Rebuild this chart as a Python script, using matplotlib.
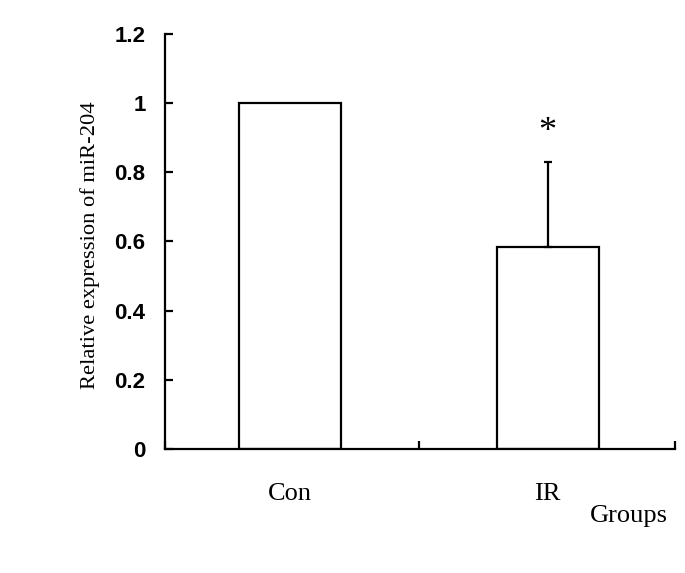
import matplotlib
matplotlib.use("Agg")
import matplotlib.pyplot as plt

groups = ["Con", "IR"]
values = [1.0, 0.585]
err_up = [0.0, 0.245]
yticks = [0, 0.2, 0.4, 0.6, 0.8, 1, 1.2]
ytick_labels = ["0", "0.2", "0.4", "0.6", "0.8", "1", "1.2"]

fig = plt.figure(figsize=(6.85, 5.73), dpi=100)
ax = fig.add_axes([0.2409, 0.2164, 0.7445, 0.7243])

xpos = [0.49, 1.5]
ax.bar(xpos, values, width=0.40, color="white", edgecolor="black", linewidth=1.6)
# upper error bar only
ax.errorbar(xpos[1], values[1], yerr=[[0], [err_up[1]]], fmt="none",
            ecolor="black", elinewidth=1.6, capsize=3, capthick=1.6)
ax.text(xpos[1], 0.915, "*", ha="center", va="center", fontsize=26,
        family="Liberation Serif")

ax.set_xlim(0, 2)
ax.set_ylim(0, 1.2)
ax.spines["top"].set_visible(False)
ax.spines["right"].set_visible(False)
ax.spines["left"].set_linewidth(1.6)
ax.spines["bottom"].set_linewidth(1.6)

ax.set_yticks(yticks)
ax.set_yticklabels(ytick_labels, fontsize=16, fontweight="bold", family="Liberation Sans")
ax.set_xticks([0, 0.995, 2])
ax.set_xticklabels([])
ax.tick_params(axis="both", direction="in", length=6, width=1.6)
ax.tick_params(axis="y", pad=14)

for x, g in zip(xpos, groups):
    ax.text(x, -0.13, g, ha="center", va="center", fontsize=19,
            family="Liberation Serif", transform=ax.transData, clip_on=False)
fig.text(629 / 685, 1 - 516 / 573, "Groups", ha="center", va="center",
         fontsize=19, family="Liberation Serif")

ax.set_ylabel("Relative expression of miR-204", fontsize=16.2,
              family="Liberation Serif")
ax.yaxis.set_label_coords(-0.127, 0.49)

fig.savefig("out.png", dpi=100)
